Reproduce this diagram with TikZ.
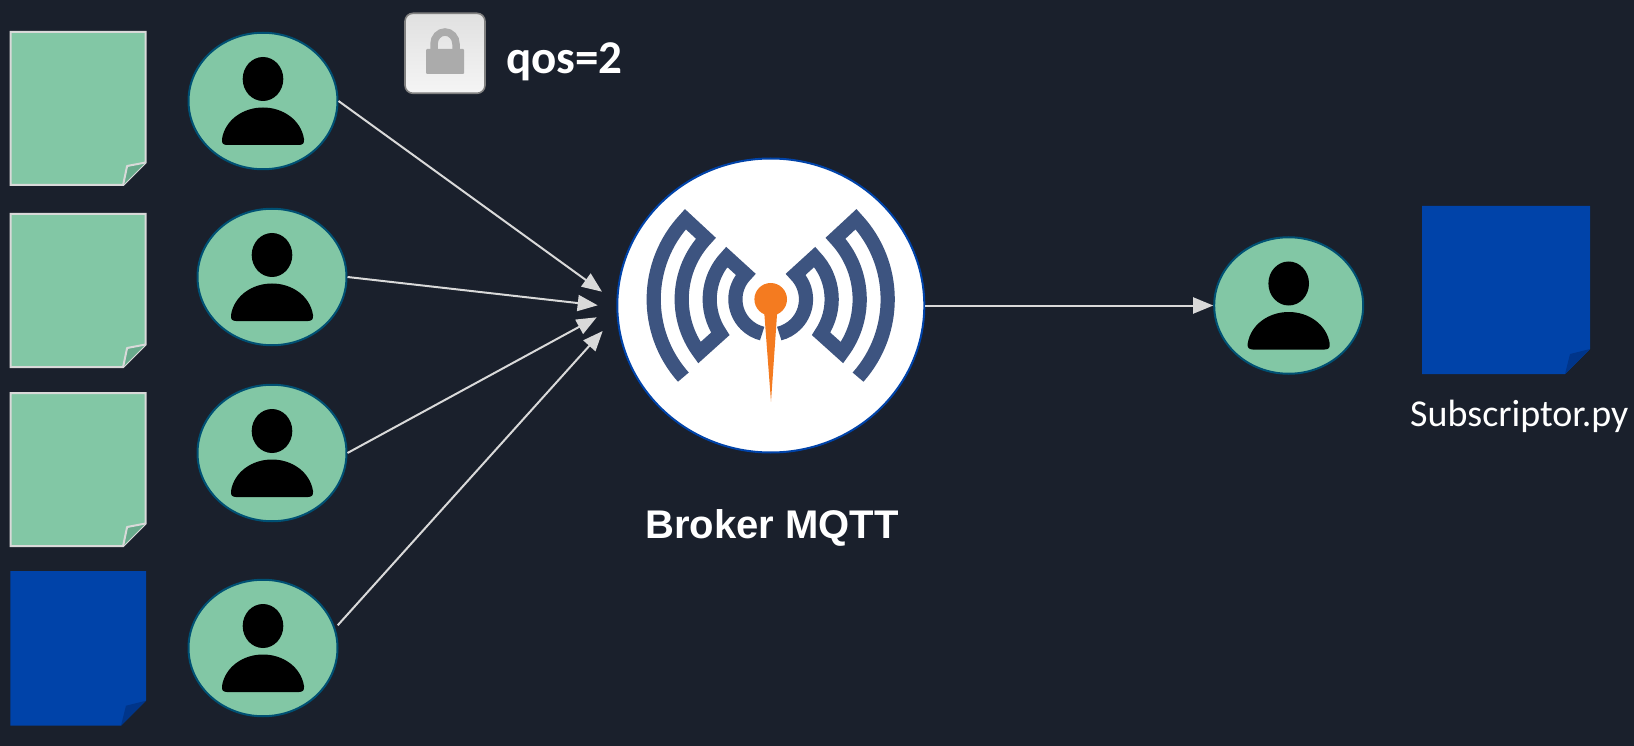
\documentclass[tikz,border=0pt]{standalone}
\usepackage{fontspec}
\setmainfont{Liberation Sans}
\newfontfamily\carlito{Carlito}
\usetikzlibrary{shapes.geometric,arrows.meta}
\definecolor{bgc}{HTML}{1A202C}
\definecolor{greenc}{HTML}{82C7A5}
\definecolor{greend}{HTML}{68AB8C}
\definecolor{bluec}{HTML}{0043A9}
\definecolor{blued}{HTML}{00358A}
\definecolor{edgec}{HTML}{D9D9D9}
\definecolor{tealc}{HTML}{005073}
\definecolor{ringc}{HTML}{3D5480}
\definecolor{orangec}{HTML}{F47B20}
\tikzset{
  person/.style={ellipse,draw=tealc,line width=2pt,fill=greenc,inner sep=0pt,minimum width=149pt,minimum height=136.5pt},
  link/.style={draw=edgec,line width=2pt,-{Triangle[length=20pt,width=16pt,fill=edgec]},shorten >=0pt},
  rings/.style={draw=ringc,line width=14.2pt,line join=miter,miter limit=20,line cap=butt},
  lbl/.style={text=white,inner sep=0pt,anchor=base west},
  figure/.pic={
    \fill[black] (0,-22) ellipse [x radius=20.3pt,y radius=22pt];
    \fill[black] (-41,38) .. controls (-38,19) and (-20,6.5) .. (0,6.5)
      .. controls (20,6.5) and (38,19) .. (41,38)
      .. controls (41.5,42) and (40,44) .. (36,44) -- (-36,44)
      .. controls (-40,44) and (-41.5,42) .. (-41,38) -- cycle;
  }
}
% left, top, right, bottom
\newcommand{\greennote}[4]{%
  \draw[fill=greenc,draw=edgec,line width=2pt,line join=miter]
    (#1,#2) -- (#3,#2) -- (#3,#4-22.5) -- (#3-22.5,#4) -- (#1,#4) -- cycle;
  \draw[fill=greend,draw=edgec,line width=2pt,line join=round]
    (#3-22.5,#4) -- (#3-18.5,#4-19) -- (#3,#4-22.5);
}
\newcommand{\bluenote}[4]{%
  \fill[bluec] (#1,#2) -- (#3,#2) -- (#3,#4-25) -- (#3-25,#4) -- (#1,#4) -- cycle;
  \fill[blued] (#3-25,#4) -- (#3-20,#4-20) -- (#3,#4-25) -- cycle;
}
\begin{document}
\begin{tikzpicture}[x=1pt,y=-1pt]
\useasboundingbox (0,0) rectangle (1634,746);
\fill[bgc] (0,0) rectangle (1634,746);

% notes
\greennote{10.5}{32}{145.6}{185}
\greennote{10.5}{214}{145.6}{367}
\greennote{10.5}{393}{145.6}{546}
\bluenote{10.3}{571}{146}{725.7}
\bluenote{1422}{206}{1590}{374}

% people
\node[person] (p1) at (263,101) {};
\node[person] (p2) at (272,277) {};
\node[person] (p3) at (272,453) {};
\node[person] (p4) at (263,648) {};
\node[person] (p5) at (1288.7,305.5) {};
\pic at (p1.center) {figure};
\pic at (p2.center) {figure};
\pic at (p3.center) {figure};
\pic at (p4.center) {figure};
\pic at (p5.center) {figure};

% broker
\node[ellipse,draw=bluec,line width=2pt,fill=white,inner sep=0pt,minimum width=307pt,minimum height=294pt] (broker) at (770.8,305.5) {};
\begin{scope}[shift={(770.7,299.3)},x=1pt,y=1pt]
  \foreach \sx in {1,-1}{
    \begin{scope}[xscale=\sx]
    \draw[rings] (221.7:117) arc [start angle=221.7,end angle=136.8,radius=117pt]
      -- (136.7:89) arc [start angle=136.7,end angle=216.8,radius=89pt]
      -- (214.4:61) arc [start angle=214.4,end angle=136.1,radius=61pt]
      -- (135:35.3) arc [start angle=135,end angle=256,radius=35.3pt];
    \end{scope}
  }
  \fill[orangec] (0,0) circle [radius=16.3pt];
  \fill[orangec] (-6.4,-14) -- (6.4,-14) -- (0.3,-102.4) -- cycle;
\end{scope}

% free arrow ends
\coordinate (t1) at (602,291.7);
\coordinate (t2) at (597.7,305.3);
\coordinate (t3) at (596.7,317.3);
\coordinate (t4) at (602.7,331);
\coordinate (s4) at (337.7,625.3);

\draw[link] (p1.east) -- (t1);
\draw[link] (p2.east) -- (t2);
\draw[link] (p3.east) -- (t3);
\draw[link] (s4) -- (t4);
\draw[link] (broker.east) -- (p5.west);

% lock
\node[draw=black!50,line width=1.6pt,rounded corners=8pt,top color=black!12,bottom color=black!4,inner sep=0pt,minimum width=80pt,minimum height=80pt] (lockbox) at (445,53.3) {};
\draw[draw=black!33,line width=7.5pt] (434,52) -- (434,44) arc [start angle=180,end angle=0,x radius=11pt,y radius=12pt] -- (456,52);
\fill[black!33,rounded corners=1pt] (426,49) rectangle (464,74);

% labels
\node[lbl,font=\carlito\bfseries\fontsize{47}{47}\selectfont] (qos) at (506,74) {qos=2};
\node[lbl,font=\bfseries\fontsize{40}{40}\selectfont] (brk) at (645,538) {Broker MQTT};
\node[lbl,font=\carlito\fontsize{38}{38}\selectfont] (sub) at (1410,426) {Subscriptor.py};
\end{tikzpicture}
\end{document}
